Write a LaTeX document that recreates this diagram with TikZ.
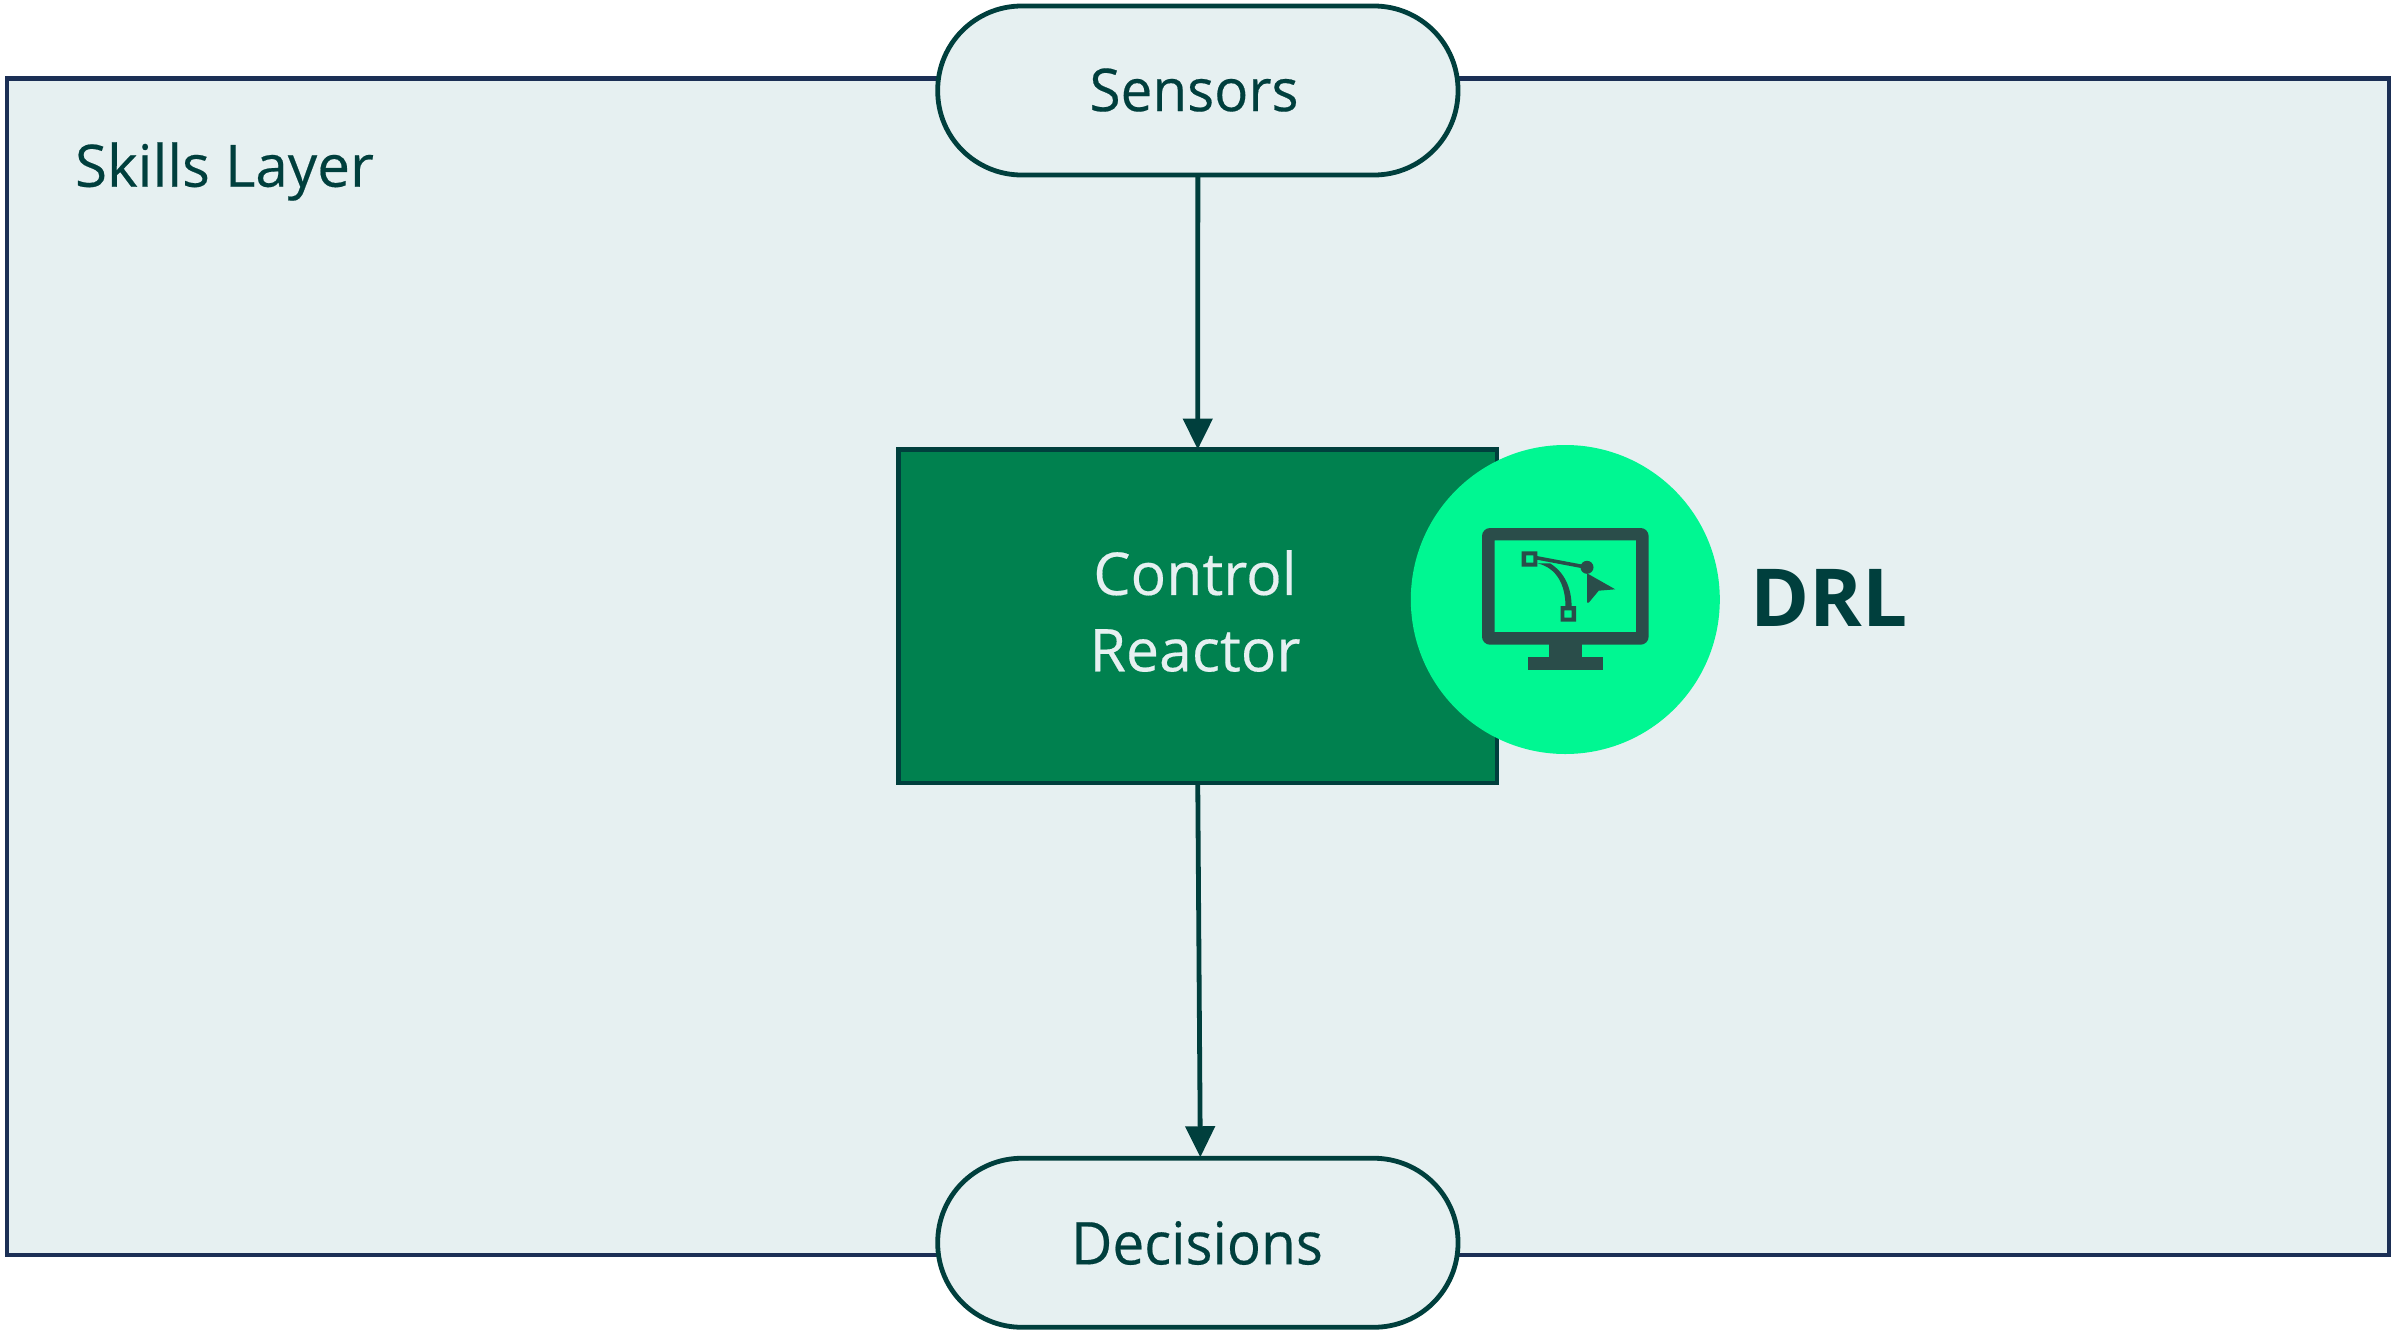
\documentclass[tikz,border=0pt]{standalone}
\usepackage{fontspec}
\setmainfont{Open Sans}
\newfontfamily\labelfont[FakeBold=0.3]{Open Sans}
\newfontfamily\narrowfont[FakeBold=0.3,FakeStretch=0.96]{Open Sans}
\usetikzlibrary{arrows.meta,calc}
\definecolor{layerfill}{HTML}{E6F0F1}
\definecolor{layerline}{HTML}{1B2F55}
\definecolor{darkteal}{HTML}{003F3D}
\definecolor{reactorgreen}{HTML}{00814F}
\definecolor{drlgreen}{HTML}{00F792}
\definecolor{iconcol}{HTML}{2A4D4A}
\tikzset{
  every node/.style={outer sep=0pt,inner sep=0pt},
  layerbox/.style={rectangle,draw=layerline,fill=layerfill,line width=2.4pt,minimum width=1191pt,minimum height=588.25pt},
  terminal/.style={rectangle,rounded corners=42pt,draw=darkteal,fill=layerfill,line width=2.4pt,minimum width=260.15pt,minimum height=84.5pt},
  termlabel/.style={text=darkteal,font=\fontsize{29.5}{36}\selectfont\narrowfont},
  reactorbox/.style={rectangle,draw=darkteal,fill=reactorgreen,line width=2.4pt,minimum width=299.25pt,minimum height=166.75pt},
  flow/.style={draw=darkteal,line width=2.4pt,-{Triangle[length=15.5pt,width=14.5pt]}},
  iconfill/.style={fill=iconcol,draw=none},
}
\begin{document}
\begin{tikzpicture}[x=0.5pt,y=-0.5pt]
\useasboundingbox (0,0) rectangle (2392,1333);
\fill[white] (0,0) rectangle (2392,1333);
\node[layerbox] (layer) at (1198,666.75) {};
\node[anchor=base west,text=darkteal,font=\fontsize{29.2}{36}\selectfont\labelfont] (layerlabel) at (75,186.7) {Skills Layer};
\node[terminal] (sensors) at (1197.85,90.5) {};
\node[terminal] (decisions) at (1197.85,1242.75) {};
\node[termlabel] (sensorslabel) at (1194,90) {Sensors};
\node[termlabel] (decisionslabel) at (1197,1243) {Decisions};
\node[reactorbox] (reactor) at (1197.75,616.25) {};
\node[align=center,text=layerfill,font=\fontsize{29.5}{38.2}\selectfont\labelfont] (reactorlabel) at (1195,611) {Control\\Reactor};
\coordinate (decin) at ($(decisions.north)+(2.5,-1)$);
\draw[flow] (sensors.south) -- (reactor.north);
\draw[flow] (reactor.south) -- (decin);
\node[circle,fill=drlgreen,minimum size=154.5pt] (drlcircle) at (1565.3,599.5) {};
\node[anchor=base west,text=darkteal,font=\fontsize{40}{48}\selectfont\bfseries] (drl) at (1750,626.5) {DRL};
% monitor icon
\fill[iconfill,even odd rule,rounded corners=4pt] (1482,528) rectangle (1648.6,644.7)
  [sharp corners] (1494.7,540.3) rectangle (1636.2,632);
\fill[iconfill] (1548.8,640) rectangle (1581.8,660);
\fill[iconfill] (1528,657.3) rectangle (1602.8,669.7);
\fill[iconfill,even odd rule] (1521.6,551.3) rectangle (1537.4,566.7) (1526,555.3) rectangle (1533.3,562.7);
\fill[iconfill,even odd rule] (1560.5,606) rectangle (1576,621.7) (1564.3,610.3) rectangle (1571.5,617.7);
\draw[iconcol,line width=1.8pt] (1535,557.5) -- (1587,567.3);
\fill[iconfill] (1587,567.3) circle[radius=6.5];
\fill[iconfill] (1537.4,563.3) .. controls (1557,568) and (1565.5,585) .. (1565.5,607) -- (1571.6,607) .. controls (1571.6,587) and (1564,572) .. (1550,563.3) -- cycle;
\fill[iconfill] (1587,573.3) -- (1615.2,589.3) -- (1598.7,590.7) -- (1588.7,602.7) -- (1587,602.7) -- cycle;
\end{tikzpicture}
\end{document}
